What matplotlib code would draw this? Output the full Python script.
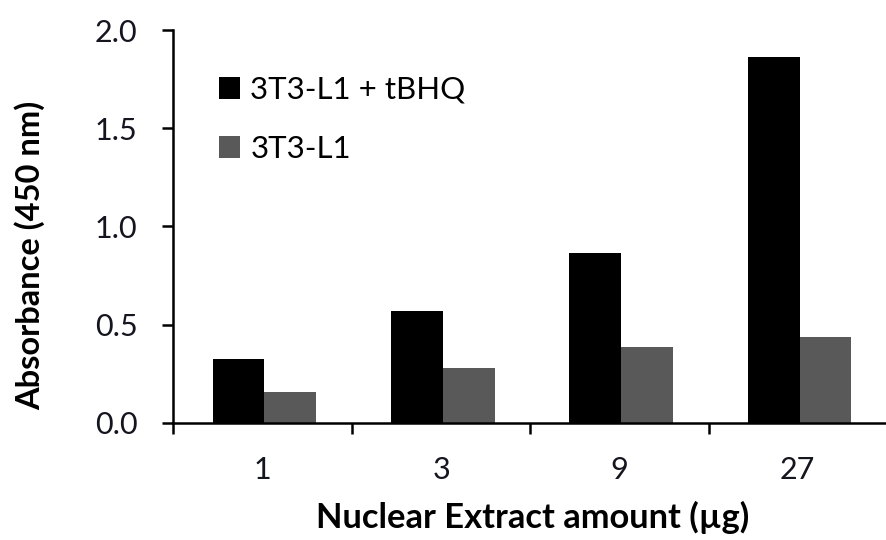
import numpy as np
import matplotlib
matplotlib.use("Agg")
import matplotlib.pyplot as plt
from matplotlib.ticker import FixedLocator

plt.rcParams['font.family'] = ['Lato', 'DejaVu Sans']

# values
amounts = ['1', '3', '9', '27']
tbhq = [0.323, 0.569, 0.866, 1.86]
plain = [0.158, 0.280, 0.385, 0.434]

W, H = 887, 540
fig = plt.figure(figsize=(W / 100, H / 100), dpi=100)
ax = fig.add_axes([173.5 / W, 1 - 422.7 / H, 1 - 173.5 / W, (422.7 - 30) / H])

x = np.arange(len(amounts))
w = 0.29
ax.bar(x - w/2 + 0.01, tbhq, w, color='black', label='3T3-L1 + tBHQ')
ax.bar(x + w/2 + 0.01, plain, w, color='#595959', label='3T3-L1')

ax.set_xlim(-0.5, len(amounts) - 0.5)
ax.set_ylim(0, 2.0)
ax.set_yticks([0, 0.5, 1.0, 1.5, 2.0])
ax.set_yticklabels(['0.0', '0.5', '1.0', '1.5', '2.0'])
ax.set_xticks(x)
ax.set_xticklabels(amounts)
ax.xaxis.set_minor_locator(FixedLocator(np.arange(len(amounts) + 1) - 0.5))
ax.tick_params(axis='x', which='major', length=0, pad=24)
ax.tick_params(axis='x', which='minor', length=8, width=1.8)
ax.tick_params(axis='y', length=8, width=1.8, pad=18)
ax.tick_params(labelsize=22, labelcolor='#15151f')

for s in ['top', 'right']:
    ax.spines[s].set_visible(False)
for s in ['left', 'bottom']:
    ax.spines[s].set_linewidth(1.8)

ax.set_ylabel('Absorbance (450 nm)', fontsize=23.5, fontweight='bold')
ax.yaxis.set_label_coords(-0.18, 0.425)
ax.set_xlabel('Nuclear Extract amount (µg)', fontsize=24.8, fontweight='bold')
ax.xaxis.set_label_coords(0.503, -0.2)

ax.legend(loc='upper left', bbox_to_anchor=(203 / W, 1 - 60 / H),
          bbox_transform=fig.transFigure, frameon=False, borderpad=0,
          fontsize=22.5, handlelength=0.7, handleheight=0.7, handletextpad=0.32,
          labelspacing=1.0)

fig.savefig('out.png', dpi=100)
